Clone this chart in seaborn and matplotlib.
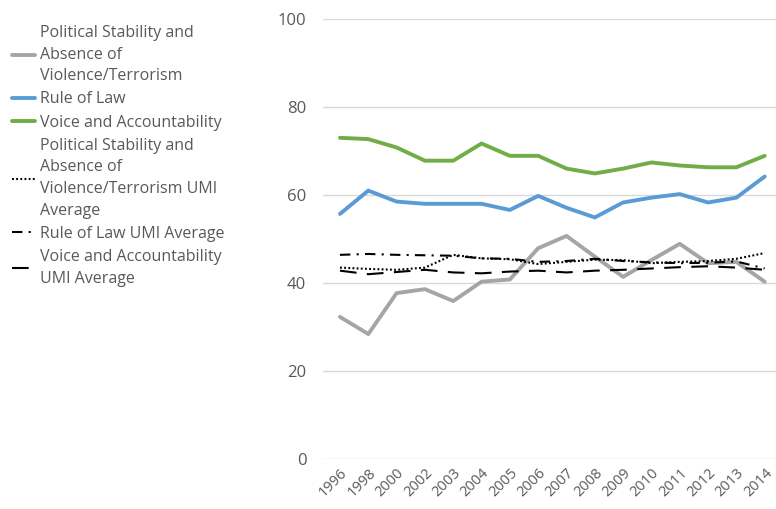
import matplotlib
matplotlib.use("Agg")
import matplotlib.pyplot as plt
import seaborn as sns
import pandas as pd

years = ["1996", "1998", "2000", "2002", "2003", "2004", "2005", "2006",
         "2007", "2008", "2009", "2010", "2011", "2012", "2013", "2014"]

political_stability = [32.3, 28.4, 37.7, 38.6, 35.9, 40.3, 40.8, 47.9,
                       50.7, 46.0, 41.4, 45.2, 48.9, 44.5, 44.8, 40.3]
rule_of_law = [55.7, 61.0, 58.5, 58.0, 58.0, 58.0, 56.6, 59.8,
               57.1, 54.9, 58.3, 59.4, 60.2, 58.3, 59.4, 64.2]
voice_accountability = [73.0, 72.7, 70.8, 67.8, 67.8, 71.7, 68.9, 68.9,
                        66.0, 64.9, 66.0, 67.4, 66.7, 66.3, 66.3, 68.9]
political_stability_umi = [43.5, 43.2, 43.0, 43.5, 46.4, 45.6, 45.4, 44.3,
                           44.8, 45.3, 45.2, 44.5, 44.8, 45.0, 45.5, 46.8]
rule_of_law_umi = [46.4, 46.6, 46.4, 46.3, 46.2, 45.6, 45.5, 44.8,
                   45.0, 45.5, 45.0, 44.7, 44.5, 44.6, 44.9, 43.3]
voice_accountability_umi = [42.8, 42.0, 42.5, 43.0, 42.4, 42.2, 42.6, 42.8,
                            42.4, 42.8, 43.0, 43.3, 43.6, 43.8, 43.5, 43.0]

series_labels = [
    "Political Stability and\nAbsence of\nViolence/Terrorism",
    "Rule of Law",
    "Voice and Accountability",
    "Political Stability and\nAbsence of\nViolence/Terrorism UMI\nAverage",
    "Rule of Law UMI Average",
    "Voice and Accountability\nUMI Average",
]
series_values = [political_stability, rule_of_law, voice_accountability,
                 political_stability_umi, rule_of_law_umi, voice_accountability_umi]

colors = ["#a5a5a5", "#5b9bd5", "#70ad47", "black", "black", "black"]
widths = [2.8, 2.8, 2.8, 1.5, 1.5, 1.5]
styles = ["-", "-", "-", (0, (0.9, 1.1)), (0, (5, 3, 1, 3)), (0, (8, 5))]

sns.set_theme(style="white")
plt.rcParams["font.family"] = ["Open Sans", "DejaVu Sans"]

fig = plt.figure(figsize=(7.76, 5.09), dpi=100)
ax = fig.add_axes([323 / 776, 50 / 509, 453 / 776, 440 / 509])

for label, vals, c, lw, ls in zip(series_labels, series_values, colors, widths, styles):
    df = pd.DataFrame({"x": range(len(years)), "y": vals})
    sns.lineplot(data=df, x="x", y="y", ax=ax, color=c, linewidth=lw,
                 linestyle=ls, label=label, legend=False)

ax.set_xlim(-0.6, 15.4)
ax.set_ylim(0, 100)
ax.set_yticks(range(0, 101, 20))
ax.set_xticks(range(len(years)))
ax.set_xticklabels(years, rotation=45, ha="right", rotation_mode="anchor")
ax.set_xlabel("")
ax.set_ylabel("")
ax.grid(axis="y", color="#d9d9d9", linewidth=1)
ax.grid(axis="x", visible=False)
for s in ax.spines.values():
    s.set_visible(False)
ax.tick_params(axis="y", length=0, pad=12, labelsize=12, labelcolor="#595959")
ax.tick_params(axis="x", length=0, pad=5, labelsize=10.5, labelcolor="#595959")

handles, labels = ax.get_legend_handles_labels()
leg = fig.legend(handles, labels, loc="upper left", bbox_to_anchor=(12 / 776, 1 - 25 / 509),
                 frameon=False, fontsize=11.5, handlelength=1.45, handletextpad=0.3,
                 labelspacing=0.45, borderaxespad=0, borderpad=0)
for t in leg.get_texts():
    t.set_color("#595959")
    t.set_linespacing(1.47)

fig.savefig("out.png", dpi=100)
